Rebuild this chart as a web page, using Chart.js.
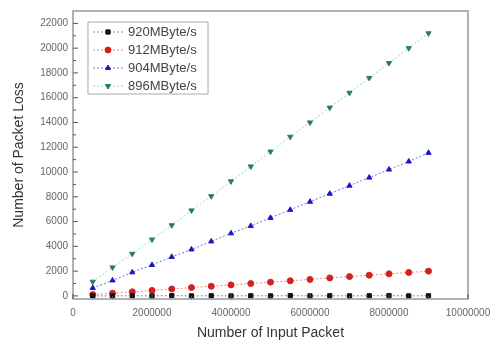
<!DOCTYPE html>
<html lang="en">
<head>
<meta charset="UTF-8" />
<title>Packet Loss</title>
<style>
  body { margin: 0; background: #fff; }
  #wrap { width: 499px; height: 343px; }
</style>
<script src="https://cdn.jsdelivr.net/npm/chart.js"></script>
</head>
<body>
<div id="wrap"><canvas id="grafico" width="499" height="343"></canvas></div>
<script>
// input packets (x)
const inputPackets = [500000, 1000000, 1500000, 2000000, 2500000, 3000000, 3500000, 4000000, 4500000,
  5000000, 5500000, 6000000, 6500000, 7000000, 7500000, 8000000, 8500000, 9000000];

const loss920 = [0, 0, 10, 0, 20, 0, 10, 0, 10, 0, 20, 0, 10, 0, 10, 20, 0, 10];
const loss912 = [110, 220, 330, 440, 560, 670, 780, 890, 1000, 1110, 1220, 1330, 1450, 1560, 1670, 1780, 1890, 2000];
const loss904 = [640, 1250, 1900, 2500, 3150, 3750, 4400, 5050, 5650, 6300, 6950, 7600, 8250, 8900, 9550, 10200, 10850, 11550];
const loss896 = [1150, 2300, 3400, 4550, 5700, 6900, 8050, 9250, 10450, 11650, 12850, 14000, 15200, 16400, 17600, 18800, 20000, 21200];

const seriesNames = ["920MByte/s", "912MByte/s", "904MByte/s", "896MByte/s"];
const xTicks = [0, 2000000, 4000000, 6000000, 8000000, 10000000];
const yTicks = [0, 2000, 4000, 6000, 8000, 10000, 12000, 14000, 16000, 18000, 20000, 22000];

const fonte = '"Liberation Sans", Arial, sans-serif';

function pts(ys) {
  return ys.map((y, i) => ({ x: inputPackets[i], y: y }));
}

function serie(label, ys, mark, line, style, rot) {
  return {
    label: label,
    data: pts(ys),
    borderColor: line,
    backgroundColor: mark,
    pointBackgroundColor: mark,
    pointBorderColor: mark,
    pointStyle: style,
    rotation: rot || 0,
    pointRadius: 3,
    borderWidth: 1,
    borderDash: [2, 2],
    showLine: true,
    fill: false
  };
}

// inward ticks + frame + legend, Origin style
const moldura = {
  id: 'moldura',
  afterDraw(chart) {
    const ctx = chart.ctx;
    const a = chart.chartArea;
    const xs = chart.scales.x, ys = chart.scales.y;
    ctx.save();
    ctx.strokeStyle = '#999';
    ctx.lineWidth = 1.5;
    ctx.strokeRect(a.left, a.top, a.right - a.left, a.bottom - a.top);
    ctx.strokeStyle = '#555';
    ctx.lineWidth = 1;
    ctx.beginPath();
    for (let v = 0; v <= 10000000; v += 1000000) {
      const px = xs.getPixelForValue(v);
      const len = v % 2000000 === 0 ? 5 : 3;
      ctx.moveTo(px, a.bottom);
      ctx.lineTo(px, a.bottom - len);
    }
    for (let v = 0; v <= 22000; v += 1000) {
      const py = ys.getPixelForValue(v);
      const len = v % 2000 === 0 ? 5 : 3;
      ctx.moveTo(a.left, py);
      ctx.lineTo(a.left + len, py);
    }
    ctx.stroke();

    const bx = 88, by = 22, bw = 120, bh = 72;
    ctx.strokeStyle = '#aaa';
    ctx.strokeRect(bx, by, bw, bh);
    ctx.font = '13px ' + fonte;
    ctx.textBaseline = 'middle';
    chart.data.datasets.forEach((ds, i) => {
      const y = by + 10 + i * 18;
      ctx.strokeStyle = ds.borderColor;
      ctx.setLineDash([2, 2]);
      ctx.beginPath();
      ctx.moveTo(bx + 5, y);
      ctx.lineTo(bx + 37, y);
      ctx.stroke();
      ctx.setLineDash([]);
      ctx.fillStyle = ds.pointBackgroundColor;
      ctx.strokeStyle = ds.pointBorderColor;
      Chart.helpers.drawPoint(ctx, {
        pointStyle: ds.pointStyle, rotation: ds.rotation, radius: 3, borderWidth: 1
      }, bx + 20, y);
      ctx.fillStyle = '#444';
      ctx.fillText(ds.label, bx + 40, y);
    });
    ctx.restore();
  }
};

new Chart(document.getElementById('grafico'), {
  type: 'scatter',
  data: {
    datasets: [
      serie(seriesNames[0], loss920, '#111111', '#888888', 'rect'),
      serie(seriesNames[1], loss912, '#d42020', '#f08a8a', 'circle'),
      serie(seriesNames[2], loss904, '#1818c0', '#7070ee', 'triangle'),
      serie(seriesNames[3], loss896, '#2a7a6a', '#80dede', 'triangle', 180)
    ]
  },
  options: {
    responsive: false,
    animation: false,
    layout: { padding: { top: 9, right: 31, left: 0, bottom: 0 } },
    plugins: { legend: { display: false }, tooltip: { enabled: false } },
    scales: {
      x: {
        type: 'linear',
        min: 0,
        max: 10000000,
        afterBuildTicks: s => { s.ticks = xTicks.map(v => ({ value: v })); },
        afterFit: s => { s.height = 44; },
        grid: { display: false, drawTicks: false },
        border: { display: false },
        ticks: {
          color: '#666',
          padding: 8,
          maxRotation: 0,
          font: { size: 10, family: fonte },
          callback: v => String(v)
        },
        title: {
          display: true,
          text: 'Number of Input Packet',
          color: '#333',
          padding: { top: 2, bottom: 1 },
          font: { size: 14, family: fonte }
        }
      },
      y: {
        min: -250,
        max: 23000,
        afterBuildTicks: s => { s.ticks = yTicks.map(v => ({ value: v })); },
        afterFit: s => { s.width = 73; },
        grid: { display: false, drawTicks: false },
        border: { display: false },
        ticks: {
          color: '#666',
          padding: 5,
          font: { size: 10, family: fonte },
          callback: v => String(v)
        },
        title: {
          display: true,
          text: 'Number of Packet Loss',
          color: '#333',
          padding: { top: 11, bottom: 0 },
          font: { size: 14, family: fonte }
        }
      }
    }
  },
  plugins: [moldura]
});
</script>
</body>
</html>
